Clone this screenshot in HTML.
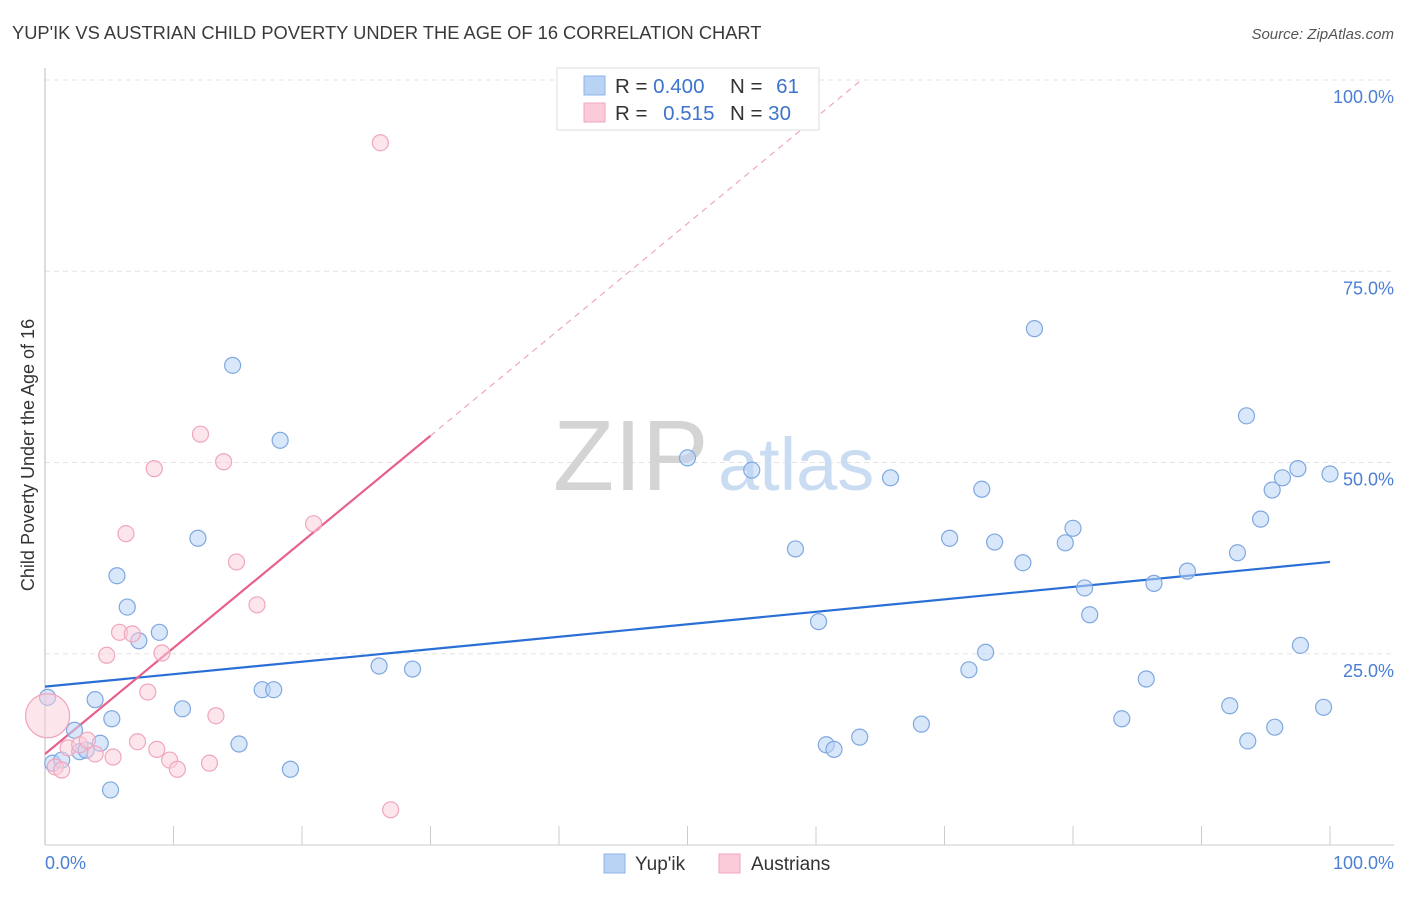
<!DOCTYPE html>
<html><head><meta charset="utf-8"><style>
body{margin:0;background:#fff;font-family:"Liberation Sans",sans-serif;}
svg text{font-family:"Liberation Sans",sans-serif;}
</style></head><body>
<svg id="chart" width="1406" height="892" viewBox="0 0 1406 892">
<text x="12" y="39" font-size="18.3" fill="#3a3a3a">YUP'IK VS AUSTRIAN CHILD POVERTY UNDER THE AGE OF 16 CORRELATION CHART</text>
<text x="1394" y="39" font-size="15" fill="#555" font-style="italic" text-anchor="end">Source: ZipAtlas.com</text>
<g id="grid"></g>
<g><text x="553" y="490" font-size="100" font-family="Liberation Serif" fill="#d4d4d4">ZIP</text><text x="718" y="490" font-size="74" fill="#c9dcf2">atlas</text></g>
<line x1="45" y1="68" x2="45" y2="845" stroke="#bbb"/>
<line x1="45" y1="845" x2="1394" y2="845" stroke="#ccc"/>
<text x="28" y="455" font-size="18" fill="#333" text-anchor="middle" transform="rotate(-90 28 455)" dy="6">Child Poverty Under the Age of 16</text>
<text x="45" y="869" font-size="18" fill="#4a7fd4">0.0%</text>
<text x="1394" y="869" font-size="18" fill="#4a7fd4" text-anchor="end">100.0%</text>
<g id="lines"></g><g id="pts"></g>
<g>
<rect x="557" y="68" width="262" height="62" fill="#fff" stroke="#ddd"/>
<rect x="584" y="76" width="21" height="19" fill="#b9d3f5" stroke="#8fb3e8"/>
<rect x="584" y="103" width="21" height="19" fill="#fbcbd9" stroke="#f0a6bd"/>
<text x="615" y="93" font-size="20.5" fill="#333">R = <tspan fill="#3e74cc">0.400</tspan></text>
<text x="730" y="93" font-size="20.5" fill="#333">N = <tspan fill="#3e74cc" dx="8">61</tspan></text>
<text x="615" y="120" font-size="20.5" fill="#333">R = <tspan fill="#3e74cc" dx="10">0.515</tspan></text>
<text x="730" y="120" font-size="20.5" fill="#333">N = <tspan fill="#3e74cc">30</tspan></text>
</g>
<g>
<rect x="604" y="854" width="21" height="19" fill="#b9d3f5" stroke="#8fb3e8"/>
<text x="635" y="870" font-size="19" fill="#333">Yup'ik</text>
<rect x="719" y="854" width="21" height="19" fill="#fbcbd9" stroke="#f0a6bd"/>
<text x="751" y="870" font-size="19" fill="#333">Austrians</text>
</g>
</svg>
<script>
const yTicks=[25,50,75,100];
const yTickLabels=["25.0%","50.0%","75.0%","100.0%"];
const xTicks=[0,10,20,30,40,50,60,70,80,90,100];
const blueX=[0.2,0.6,1.3,2.3,2.7,3.2,3.9,4.3,5.1,5.2,5.6,6.4,7.3,8.9,10.7,11.9,14.6,15.1,16.9,17.8,18.3,19.1,26.0,28.6,50.0,55.0,58.4,60.2,60.8,61.4,63.4,65.8,68.2,70.4,71.9,72.9,73.2,73.9,76.1,77.0,79.4,80.0,80.9,81.3,83.8,85.7,86.3,88.9,92.2,92.8,93.5,93.6,94.6,95.5,95.7,96.3,97.5,97.7,99.5,100];
const blueY=[19.3,10.7,11.1,15.0,12.2,12.4,19.0,13.3,7.2,16.5,35.2,31.1,26.7,27.8,17.8,40.1,62.7,13.2,20.3,20.3,52.9,9.9,23.4,23.0,50.6,49.0,38.7,29.2,13.1,12.5,14.1,48.0,15.8,40.1,22.9,46.5,25.2,39.6,36.9,67.5,39.5,41.4,33.6,30.1,16.5,21.7,34.2,35.8,18.2,38.2,56.1,13.6,42.6,46.4,15.4,48.0,49.2,26.1,18.0,48.5];
const pinkX=[0.2,0.8,1.3,1.8,2.7,3.3,3.9,4.8,5.3,5.8,6.3,6.8,7.2,8.0,8.5,8.7,9.1,9.7,10.3,12.1,12.8,13.3,13.9,14.9,16.5,20.9,26.1,26.9];
const pinkY=[16.9,10.2,9.8,12.7,13.1,13.7,11.9,24.8,11.5,27.8,40.7,27.6,13.5,20.0,49.2,12.5,25.1,11.1,9.9,53.7,10.7,16.9,50.1,37.0,31.4,42.0,91.8,4.6];
const blueTrend=[20.7,37.0];
const pinkTrend=[11.9,53.5,30];
const X=v=>45+v*12.85, Y=v=>845-v*7.65;
const NS="http://www.w3.org/2000/svg";
function mk(t,a,p){const e=document.createElementNS(NS,t);for(const k in a)e.setAttribute(k,a[k]);p.appendChild(e);return e;}
const grid=document.getElementById('grid');
yTicks.forEach((t,i)=>{
 const l=mk('line',{x1:45,x2:1394,y1:Y(t),y2:Y(t),stroke:'#e3e3e3','stroke-dasharray':'5,4'},grid);
 
 
 const tx=mk('text',{x:1394,y:Y(t)+23,'font-size':18,fill:'#4a7fd4','text-anchor':'end'},grid);
 tx.textContent=yTickLabels[i];
 
 
});
xTicks.forEach(t=>{
 const l=mk('line',{x1:X(t),x2:X(t),y1:826,y2:845,stroke:'#ccc'},grid);
 
 
});
const pts=document.getElementById('pts'), lines=document.getElementById('lines');
blueX.forEach((x,i)=>{
 const c=mk('circle',{cx:X(x),cy:Y(blueY[i]),r:8,fill:'rgba(185,211,245,0.55)',stroke:'#7fa8e0','stroke-width':1.2},pts);
 
 
});
pinkX.forEach((x,i)=>{
 const c=mk('circle',{cx:X(x),cy:Y(pinkY[i]),r:i===0?22:8,fill:'rgba(251,203,217,0.5)',stroke:'#f0a6bd','stroke-width':1.2},pts);
 
 
});
const bl=mk('line',{x1:X(0),y1:Y(blueTrend[0]),x2:X(100),y2:Y(blueTrend[1]),stroke:'#2a6fd6','stroke-width':2.2},lines);


const slope=(pinkTrend[1]-pinkTrend[0])/pinkTrend[2];
const pl=mk('line',{x1:X(0),y1:Y(pinkTrend[0]),x2:X(pinkTrend[2]),y2:Y(pinkTrend[1]),stroke:'#e8608c','stroke-width':2.2},lines);


const xe=(100-pinkTrend[0])/slope;
const pd=mk('line',{x1:X(pinkTrend[2]),y1:Y(pinkTrend[1]),x2:X(xe),y2:Y(100),stroke:'#f0a6bd','stroke-width':1.2,'stroke-dasharray':'6,5'},lines);


</script>
</body></html>
